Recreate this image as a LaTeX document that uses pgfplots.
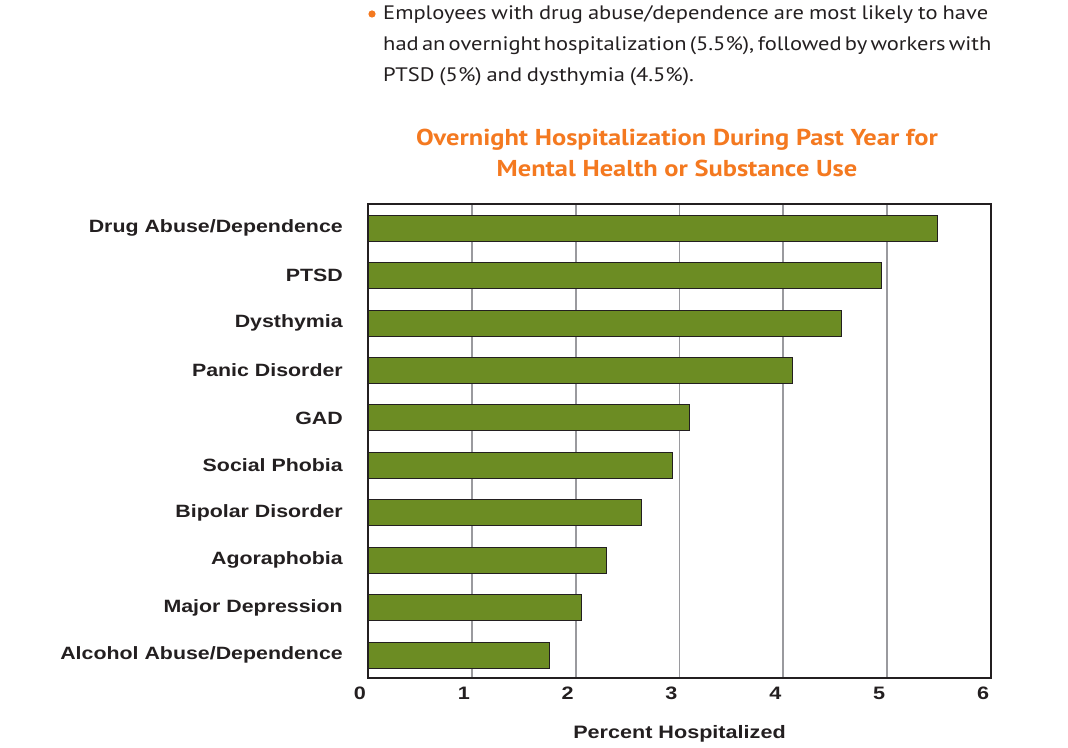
\documentclass[border=0pt]{standalone}
\usepackage{pgfplots}
\pgfplotsset{compat=1.18}
\usepackage{fontspec}
\setmainfont{Liberation Sans}
\newfontfamily\labfont[FakeStretch=1.2]{Liberation Sans}
\newfontfamily\ptfont[FakeStretch=1.155,WordSpace=0.8]{PT Sans}
\newfontfamily\ptbfont[FakeStretch=1.15]{PT Sans}
\definecolor{barg}{HTML}{6C8C23}
\definecolor{orng}{HTML}{F47920}
\definecolor{txt}{HTML}{231F20}
\definecolor{gridg}{HTML}{9A9A9E}
\begin{document}
\begin{tikzpicture}[x=1pt,y=1pt]
\useasboundingbox (0,0) rectangle (1068,747);
% bullet text
\fill[orng] (372,747-14) circle (3.6);
\node[anchor=base west, inner sep=0, font=\ptfont\fontsize{19.5}{31}\selectfont, text=txt] at (383,747-20) {\makebox[605pt][s]{Employees with drug abuse/dependence are most likely to have}};
\node[anchor=base west, inner sep=0, font=\ptfont\fontsize{19.5}{31}\selectfont, text=txt] at (383,747-51) {\makebox[605pt][s]{had an overnight hospitalization (5.5\%), followed by workers with}};
\node[anchor=base west, inner sep=0, font=\ptfont\fontsize{19.5}{31}\selectfont, text=txt] at (383,747-82) {PTSD (5\%) and dysthymia (4.5\%).};
% title
\node[anchor=base, inner sep=0, font=\ptbfont\bfseries\fontsize{23}{30}\selectfont, text=orng] at (677,747-146) {Overnight Hospitalization During Past Year for};
\node[anchor=base, inner sep=0, font=\ptbfont\bfseries\fontsize{23}{30}\selectfont, text=orng] at (677,747-177) {Mental Health or Substance Use};
\begin{axis}[
  at={(368pt,69pt)}, anchor=south west,
  scale only axis, width=623pt, height=474pt,
  xmin=0, xmax=6, ymin=0.515, ymax=10.512,
  xbar, bar width=26pt,
  xtick={0,1,2,3,4,5,6},
  ytick={1,2,3,4,5,6,7,8,9,10},
  yticklabels={Alcohol Abuse/Dependence, Major Depression, Agoraphobia, Bipolar Disorder, Social Phobia, GAD, Panic Disorder, Dysthymia, PTSD, Drug Abuse/Dependence},
  major tick length=0pt,
  xmajorgrids,
  major grid style={gridg, line width=1.8pt},
  axis line style={txt, line width=1.6pt},
  /pgf/number format/assume math mode=true,
  xticklabel style={font=\labfont\bfseries\fontsize{18}{20}\selectfont, text=txt, anchor=north, inner sep=0pt, yshift=-9pt, xshift=-8pt},
  yticklabel style={font=\labfont\bfseries\fontsize{17.8}{20}\selectfont, text=txt, anchor=east, inner sep=0pt, xshift=-25pt},
  xlabel={Percent Hospitalized},
  xlabel style={font=\labfont\bfseries\fontsize{18}{20}\selectfont, text=txt, at={(axis description cs:0.5,0)}, anchor=center, yshift=-56pt},
]
\addplot[fill=barg, draw=txt, line width=1pt] coordinates {
(1.75,1) (2.06,2) (2.30,3) (2.63,4) (2.93,5) (3.10,6) (4.09,7) (4.56,8) (4.95,9) (5.48,10)};
\end{axis}
\end{tikzpicture}
\end{document}
